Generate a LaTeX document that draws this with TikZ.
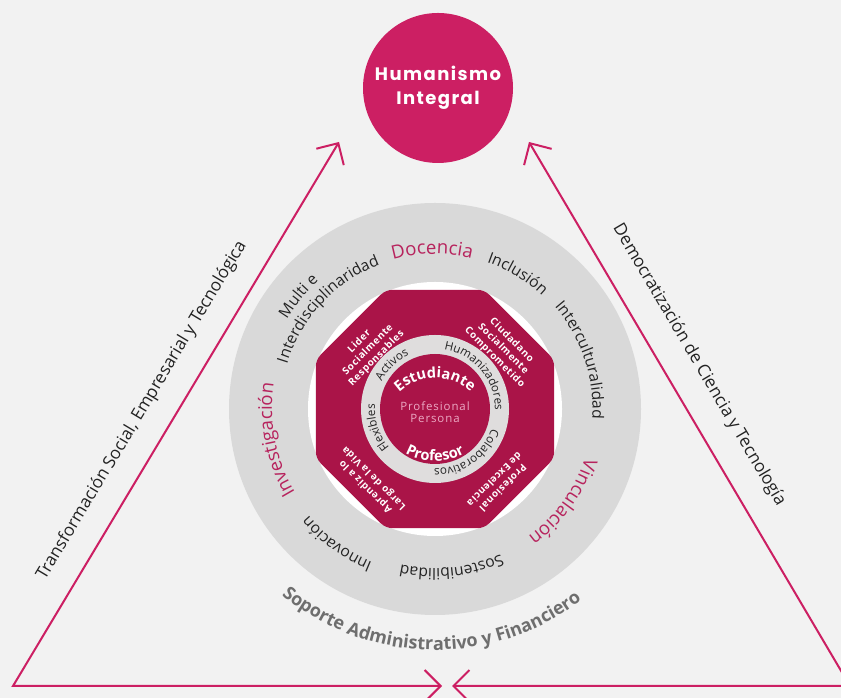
\documentclass[tikz,border=0pt]{standalone}
\usepackage{fontspec}
\setmainfont{Open Sans}
\newfontfamily\humfont{Poppins}[LetterSpace=8]
\usetikzlibrary{arrows.meta,shapes.geometric,decorations.text}

\definecolor{bgcol}{RGB}{242,242,242}
\definecolor{humcol}{RGB}{204,31,99}
\definecolor{octcol}{RGB}{170,20,72}
\definecolor{ejecol}{RGB}{183,35,93}
\definecolor{ringcol}{RGB}{217,217,217}
\definecolor{anillocol}{RGB}{223,221,221}
\definecolor{inkcol}{RGB}{35,35,35}
\definecolor{soportecol}{RGB}{110,110,110}
\definecolor{perscol}{RGB}{236,170,196}

% fonts for the curved texts
\newcommand{\ringfont}{\fontsize{11.7}{14}\selectfont\color{inkcol}}
\newcommand{\ejefont}{\fontsize{14}{16}\selectfont\color{ejecol}}
\newcommand{\anillofont}{\fontsize{8.8}{10}\selectfont\color{inkcol}}
\newcommand{\centrofont}{\bfseries\fontsize{11}{13}\selectfont\color{white}}
\newcommand{\soportefont}{\bfseries\fontsize{13.5}{16}\selectfont\color{soportecol}}

% text on a circle: centre, radius, angle, font, text
\newcommand{\cwtext}[5]{\path[decorate,decoration={text along path,text align=center,text={|#4|#5}}]
  (#1) ++(#3+60:#2) arc[start angle=#3+60,end angle=#3-60,radius=#2];}
\newcommand{\ccwtext}[5]{\path[decorate,decoration={text along path,text align=center,text={|#4|#5}}]
  (#1) ++(#3-60:#2) arc[start angle=#3-60,end angle=#3+60,radius=#2];}

\begin{document}
\begin{tikzpicture}[x=0.75pt,y=0.75pt,>={Straight Barb[length=12pt,width=24pt]},
  tri/.style={draw=humcol,line width=1.5pt,<->},
  corner/.style={text=white,align=center,inner sep=0pt,
    font=\addfontfeature{LetterSpace=6}\bfseries\fontsize{7.4}{9}\selectfont},
  side/.style={sloped,inner sep=0pt,text=inkcol,font=\fontsize{12.9}{15}\selectfont}]

\useasboundingbox (0,0) rectangle (841,698);
\clip (0,0) rectangle (841,698);
\fill[bgcol] (0,0) rectangle (841,698);

\coordinate (ctr) at (435,289);
\coordinate (bl) at (13,12);
\coordinate (br) at (850,12);
\coordinate (tl) at (339,556);
\coordinate (tr) at (529,556);
\coordinate (ml) at (442,12);
\coordinate (mr) at (452,12);
\coordinate (estc) at (435,268);
\coordinate (profc) at (435,298);

% triangle
\draw[tri] (ml) -- (bl) -- node[side,above=16pt,pos=0.477] (trans)
  {Transformación Social, Empresarial y Tecnológica} (tl);
\draw[tri] (mr) -- (br) -- node[side,above=17.5pt,pos=0.559] (democ)
  {Democratización de Ciencia y Tecnología} (tr);

\node[circle,fill=humcol,minimum size=112.5pt,inner sep=0pt,align=center,text=white,
  font=\humfont\bfseries\fontsize{13.5}{18}\selectfont] (hum) at (438,610) {Humanismo\\Integral};

% rings
\fill[ringcol] (ctr) circle (206);
\fill[white] (ctr) circle (127);
\node[regular polygon,regular polygon sides=8,fill=octcol,
  minimum size=193.5pt,inner sep=0pt,rounded corners=5pt] (octa) at (ctr) {};
\fill[anillocol] (ctr) circle (74);
\fill[octcol] (ctr) circle (55);

\node[inner sep=0pt,align=center,text=perscol,
  font=\addfontfeature{LetterSpace=8}\fontsize{8.6}{9.2}\selectfont] (prof) at (435,286) {Profesional\\Persona};

\node[corner,rotate=45] (lider) at (368,348) {Lider\\Socialmente\\Responsables};
\node[corner,rotate=-45] (ciud) at (503,349) {Ciudadano\\Socialmente\\Comprometido};
\node[corner,rotate=135] (aprend) at (370,216) {Aprendiz a lo\\Largo de la Vida};
\node[corner,rotate=225] (excel) at (499,214) {Profesional\\de Excelencia};

% outer ring
\cwtext{ctr}{155}{91}{\ejefont}{Docencia}
\cwtext{ctr}{155.5}{58.5}{\ringfont}{Inclusión}
\cwtext{ctr}{157.5}{18.5}{\ringfont}{Interculturalidad}
\cwtext{ctr}{158}{-36}{\ejefont}{Vinculación}
\cwtext{ctr}{159.5}{-84}{\ringfont}{Sostenibilidad}
\cwtext{ctr}{165.5}{-126}{\ringfont}{Innovación}
\cwtext{ctr}{163}{191}{\ejefont}{Investigación}
\cwtext{ctr}{173}{140.5}{\ringfont}{Multi e}
\cwtext{ctr}{154.5}{137}{\ringfont}{Interdisciplinaridad}

% inner ring
\cwtext{ctr}{60}{134}{\anillofont}{Activos}
\cwtext{ctr}{60}{40}{\anillofont}{Humanizadores}
\cwtext{ctr}{60}{-55}{\anillofont}{Colaborativos}
\cwtext{ctr}{60}{198}{\anillofont}{Flexibles}

\cwtext{estc}{52}{90}{\centrofont}{Estudiante}
\ccwtext{profc}{61}{270}{\centrofont}{Profesor}

\ccwtext{ctr}{241}{269}{\soportefont}{Soporte Administrativo y Financiero}

\end{tikzpicture}
\end{document}
